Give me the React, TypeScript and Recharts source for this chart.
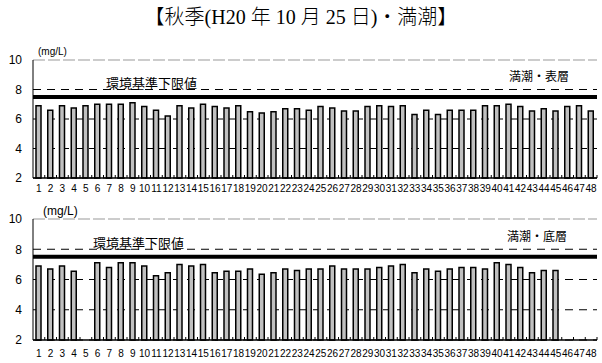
import { BarChart, Bar, XAxis, YAxis, CartesianGrid, ReferenceLine } from 'recharts';

// survey points 1..48
const sites = [
  '1', '2', '3', '4', '5', '6', '7', '8', '9', '10', '11', '12',
  '13', '14', '15', '16', '17', '18', '19', '20', '21', '22', '23', '24',
  '25', '26', '27', '28', '29', '30', '31', '32', '33', '34', '35', '36',
  '37', '38', '39', '40', '41', '42', '43', '44', '45', '46', '47', '48',
];

// DO (mg/L), high tide, surface layer
const surfaceDO = [
  6.9, 6.6, 6.9, 6.75, 6.9, 7.0, 7.0, 7.0, 7.1, 6.85, 6.6, 6.2,
  6.9, 6.75, 7.0, 6.85, 6.75, 6.9, 6.5, 6.4, 6.5, 6.7, 6.7, 6.6,
  6.85, 6.75, 6.55, 6.55, 6.85, 6.9, 6.85, 6.9, 6.3, 6.6, 6.3, 6.6,
  6.6, 6.6, 6.9, 6.9, 7.0, 6.85, 6.55, 6.7, 6.55, 6.85, 6.9, 6.55,
];

// DO (mg/L), high tide, bottom layer (null = not measured)
const bottomDO = [
  6.9, 6.7, 6.9, 6.55, null, 7.1, 6.8, 7.1, 7.1, 6.9, 6.25, 6.45,
  7.0, 6.9, 7.0, 6.45, 6.55, 6.55, 6.7, 6.35, 6.45, 6.7, 6.6, 6.7,
  6.7, 6.9, 6.7, 6.7, 6.7, 6.8, 6.9, 7.0, 6.45, 6.7, 6.55, 6.7,
  6.8, 6.8, 6.7, 7.1, 7.0, 6.8, 6.45, 6.6, 6.6, null, null, null,
];

const yTicks = [2, 4, 6, 8, 10];
const standardLimit = 7.5;

const W = 602;
const Y_AXIS_W = 33;
const RIGHT = 5;
const STEP = (W - Y_AXIS_W - RIGHT) / sites.length;

const FONT = '"Liberation Sans", Arial, sans-serif';
const JP = '"Noto Sans CJK JP", "Liberation Sans", sans-serif';

// label under the bar plus a small inward tick between categories
function SiteTick(props: any) {
  const { x, y, payload, dy } = props;
  return (
    <g>
      <line x1={x + STEP / 2} x2={x + STEP / 2} y1={y} y2={y - 3} stroke="#000" />
      <text x={x} y={y + dy} textAnchor="middle" fontSize={10} fontFamily={FONT} fill="#000">
        {payload.value}
      </text>
    </g>
  );
}

function Panel({ values, height, offsetTop, marginTop, axisH, labelDy }: any) {
  const data = sites.map((s, i) => ({ site: s, value: values[i] }));
  return (
    <div style={{ position: 'absolute', left: 0, top: offsetTop }}>
      <BarChart
        width={W}
        height={height}
        data={data}
        margin={{ top: marginTop, right: RIGHT, left: 0, bottom: 0 }}
        barCategoryGap={0}
      >
        <CartesianGrid horizontal vertical={false} stroke="#000" strokeDasharray="8 6" />
        <XAxis
          dataKey="site"
          interval={0}
          height={axisH}
          tickSize={0}
          tickMargin={0}
          stroke="#000"
          strokeWidth={1.5}
          tick={(p: any) => <SiteTick {...p} dy={labelDy} />}
        />
        <YAxis
          domain={[2, 10]}
          ticks={yTicks}
          width={Y_AXIS_W}
          tickSize={0}
          tickMargin={11}
          stroke="#000"
          tick={{ fontSize: 12, fill: '#000', fontFamily: FONT }}
        />
        <ReferenceLine y={10} stroke="#fff" strokeWidth={2} />
        <ReferenceLine y={10} stroke="#999" strokeDasharray="12 3" />
        <ReferenceLine y={standardLimit} stroke="#000" strokeWidth={4} />
        <Bar
          dataKey="value"
          fill="#c0c0c0"
          stroke="#000"
          strokeWidth={1.5}
          barSize={5}
          isAnimationActive={false}
        />
      </BarChart>
    </div>
  );
}

const txt = (style: any): any => ({
  position: 'absolute',
  whiteSpace: 'nowrap',
  lineHeight: 1,
  color: '#000',
  ...style,
});

export default function App() {
  return (
    <div style={{ position: 'absolute', left: 0, top: 0, width: W, height: 363, background: '#fff' }}>
      <Panel values={surfaceDO} height={200} offsetTop={0} marginTop={60} axisH={22} labelDy={13.5} />
      <Panel values={bottomDO} height={163} offsetTop={200} marginTop={19} axisH={23} labelDy={17} />

      <div
        style={txt({
          left: 0,
          width: W,
          top: 7,
          textAlign: 'center',
          fontSize: 20,
          fontWeight: 300,
          fontFamily: '"Liberation Serif", "Noto Sans CJK JP", serif',
        })}
      >
        【秋季(H20 年 10 月 25 日)・満潮】
      </div>

      <div style={txt({ left: 38, top: 47, fontSize: 10, fontFamily: FONT })}>(mg/L)</div>
      <div style={txt({ left: 43, top: 205, fontSize: 12, fontFamily: FONT })}>(mg/L)</div>

      <div style={txt({ left: 106, top: 76, fontSize: 13, fontFamily: JP })}>環境基準下限値</div>
      <div style={txt({ left: 93, top: 236, fontSize: 13, fontFamily: JP })}>環境基準下限値</div>

      <div style={txt({ left: 509, top: 70, fontSize: 12, fontFamily: JP })}>満潮・表層</div>
      <div style={txt({ left: 507, top: 230, fontSize: 12, fontFamily: JP })}>満潮・底層</div>
    </div>
  );
}
